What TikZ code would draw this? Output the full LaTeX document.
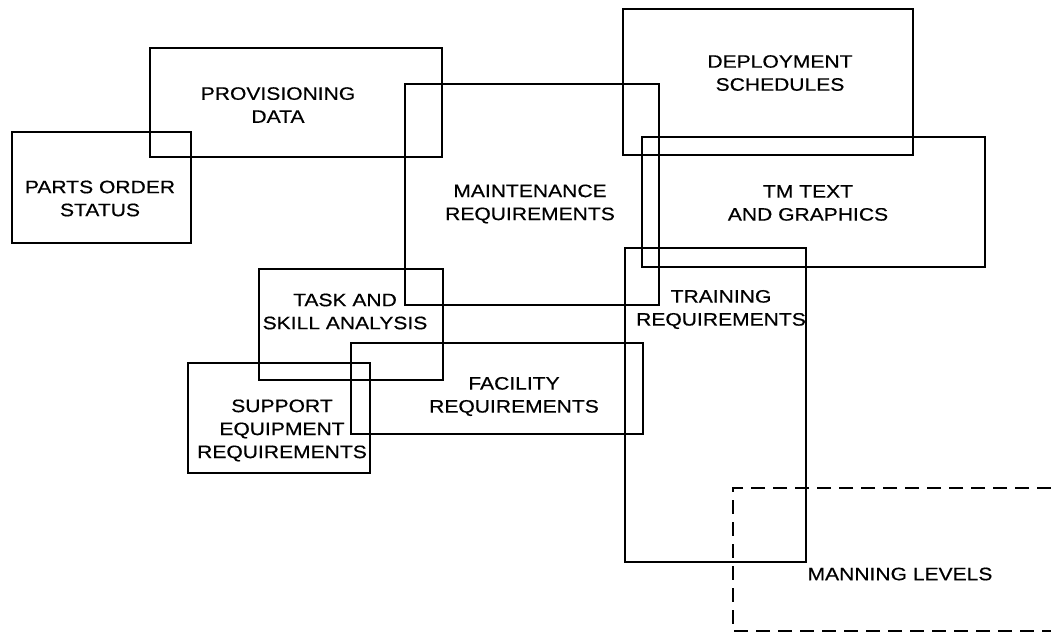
\documentclass[tikz,border=0pt]{standalone}
\usepackage{fontspec}
\setmainfont{Liberation Sans}[FakeStretch=1.17,FakeBold=0.5]
\begin{document}
\begin{tikzpicture}[x=1pt,y=-1pt,
  box/.style={draw, line width=2pt, rectangle, anchor=north west, inner sep=0pt, outer sep=0pt},
  dashbox/.style={draw, line width=2pt, dash pattern=on 14pt off 8pt},
  lbl/.style={align=center, font=\fontsize{18}{23}\selectfont, inner sep=0pt}]
\useasboundingbox (0,0) rectangle (1051,635);
% boxes
\node[box, minimum width=292pt, minimum height=109pt] (prov)   at (150,48) {};
\node[box, minimum width=179pt, minimum height=111pt] (parts)  at (12,132) {};
\node[box, minimum width=254pt, minimum height=221pt] (maint)  at (405,84) {};
\node[box, minimum width=290pt, minimum height=146pt] (deploy) at (623,9) {};
\node[box, minimum width=343pt, minimum height=130pt] (tm)     at (642,137) {};
\node[box, minimum width=181pt, minimum height=314pt] (train)  at (625,248) {};
\node[box, minimum width=184pt, minimum height=111pt] (task)   at (259,269) {};
\node[box, minimum width=292pt, minimum height=91pt]  (fac)    at (351,343) {};
\node[box, minimum width=182pt, minimum height=110pt] (supp)   at (188,363) {};
% manning levels (open to the right)
\coordinate (m1) at (1051,488);
\coordinate (m2) at (733,488);
\coordinate (m3) at (733,631);
\coordinate (m4) at (1051,631);
\draw[dashbox] (m1) -- (m2) -- (m3) -- (m4);
% labels
\node[lbl] (tprov)   at (278,105)   {PROVISIONING\\DATA};
\node[lbl] (tparts)  at (100,198.5) {PARTS ORDER\\STATUS};
\node[lbl] (tmaint)  at (530,204)   {MAINTENANCE\\REQUIREMENTS};
\node[lbl] (tdeploy) at (780,73)    {DEPLOYMENT\\SCHEDULES};
\node[lbl] (ttm)     at (808,203)   {TM TEXT\\AND GRAPHICS};
\node[lbl] (ttrain)  at (721,309.5) {TRAINING\\REQUIREMENTS};
\node[lbl] (ttask)   at (345,311.5) {TASK AND\\SKILL ANALYSIS};
\node[lbl] (tfac)    at (514,396.5) {FACILITY\\REQUIREMENTS};
\node[lbl] (tsupp)   at (282,430.5) {SUPPORT\\EQUIPMENT\\REQUIREMENTS};
\node[lbl] (tman)    at (900,574)   {MANNING LEVELS};
\end{tikzpicture}
\end{document}
